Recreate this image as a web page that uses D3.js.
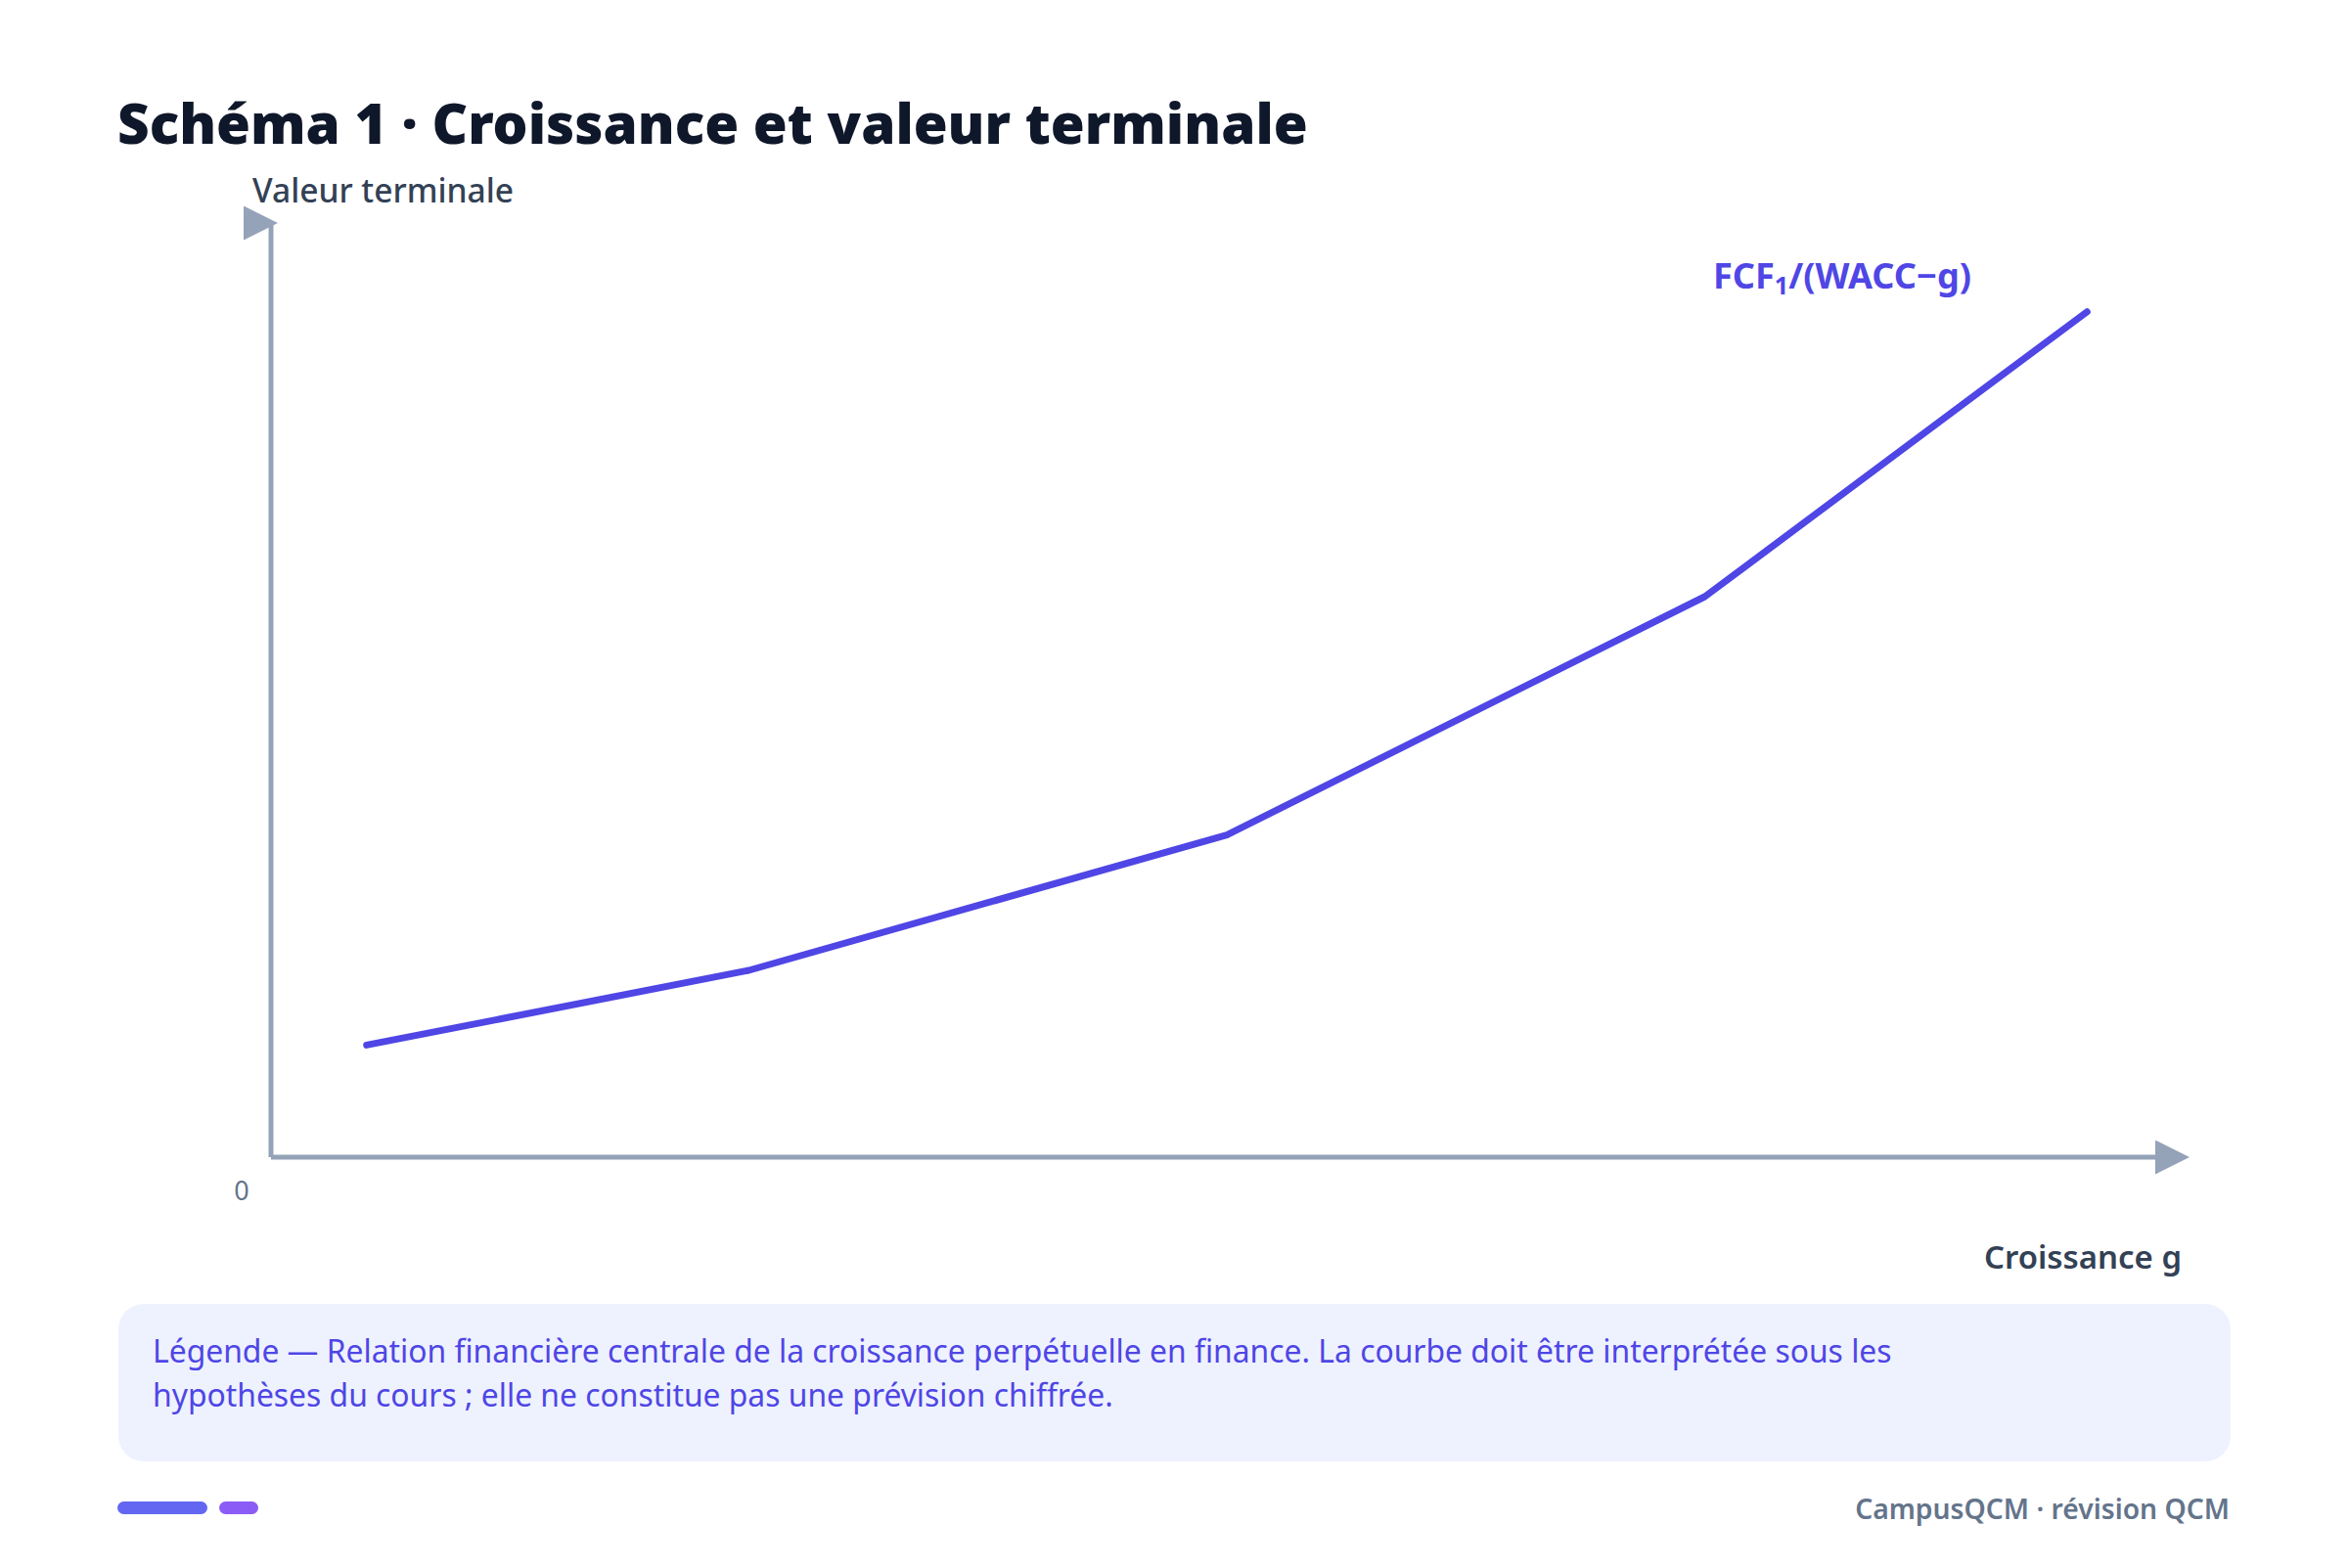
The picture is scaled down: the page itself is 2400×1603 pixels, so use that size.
<!DOCTYPE html>
<html lang="fr">
<head>
<meta charset="utf-8">
<script src="https://cdn.jsdelivr.net/npm/d3@7"></script>
<style>
  html, body { margin: 0; padding: 0; background: #ffffff; }
  svg { display: block; font-family: "Segoe UI", "Noto Sans", "Open Sans", sans-serif; }
</style>
</head>
<body>
<svg id="chart" width="2400" height="1603"></svg>
<script>
// data (g on a 0-10 scale, value on a 0-100 scale)
const growth = [0.5, 2.5, 5, 7.5, 9.5];
const terminalValue = [12, 20, 34.5, 60, 90.5];
const yTicks = ["0"];
const captionLines = [
    "Légende — Relation financière centrale de la croissance perpétuelle en finance. La courbe doit être interprétée sous les",
    "hypothèses du cours ; elle ne constitue pas une prévision chiffrée."
];

const svg = d3.select("#chart");

const axisColor = "#94a3b8";
const lineColor = "#4f46e5";

function fitWidth(sel, target) {
    const node = sel.node();
    const w = node.getComputedTextLength();
    if (w > 0) {
        const fs = parseFloat(sel.attr("font-size"));
        sel.attr("font-size", (fs * target / w).toFixed(2));
    }
    return sel;
}

// scales
let x = d3.scaleLinear().domain([0, 10]).range([277, 2231]);
let y = d3.scaleLinear().domain([0, 100]).range([1183, 228]);

// Title
fitWidth(svg.append("text")
    .attr("x", 120).attr("y", 147)
    .attr("font-size", 58).attr("font-weight", 900)
    .attr("fill", "#0f172a")
    .text("Schéma 1 · Croissance et valeur terminale"), 1217);

// arrow head used by both axes (fixed orientation, like the original)
svg.append("defs").append("marker")
    .attr("id", "arrow")
    .attr("viewBox", "0 0 10 10")
    .attr("refX", 8).attr("refY", 5)
    .attr("markerWidth", 7).attr("markerHeight", 7)
    .append("path")
    .attr("d", "M0,0 L10,5 L0,10 Z")
    .attr("fill", axisColor);

// axes
svg.append("line")
    .attr("x1", x(0)).attr("y1", y(0))
    .attr("x2", x(10)).attr("y2", y(0))
    .attr("stroke", axisColor).attr("stroke-width", 5)
    .attr("marker-end", "url(#arrow)");

svg.append("line")
    .attr("x1", x(0)).attr("y1", y(0))
    .attr("x2", x(0)).attr("y2", y(100))
    .attr("stroke", axisColor).attr("stroke-width", 5)
    .attr("marker-end", "url(#arrow)");

// zero label
svg.selectAll(".tick-label").data(yTicks).enter().append("text")
    .attr("class", "tick-label")
    .attr("x", x(0) - 30).attr("y", y(0) + 44)
    .attr("text-anchor", "middle")
    .attr("font-size", 27).attr("fill", "#64748b")
    .text(d => d);

// axis titles
fitWidth(svg.append("text")
    .attr("x", 258).attr("y", 207)
    .attr("font-size", 33).attr("font-weight", 500)
    .attr("fill", "#334155")
    .text("Valeur terminale"), 267);

fitWidth(svg.append("text")
    .attr("x", 2230).attr("y", 1297)
    .attr("text-anchor", "end")
    .attr("font-size", 34).attr("font-weight", 600)
    .attr("fill", "#334155")
    .text("Croissance g"), 202);

// curve
let line = d3.line()
    .x((d, i) => x(growth[i]))
    .y(d => y(d));

svg.append("path")
    .datum(terminalValue)
    .attr("d", line)
    .attr("fill", "none")
    .attr("stroke", lineColor)
    .attr("stroke-width", 7)
    .attr("stroke-linecap", "round")
    .attr("stroke-linejoin", "round");

// curve label
let formula = svg.append("text")
    .attr("x", 1751).attr("y", 295)
    .attr("font-size", 34).attr("font-weight", 700)
    .attr("fill", lineColor);
formula.append("tspan").text("FCF");
formula.append("tspan").attr("font-size", "0.7em").attr("dy", 6).text("1");
formula.append("tspan").attr("dy", -6).text("/(WACC−g)");
fitWidth(formula, 264);

// caption box
svg.append("rect")
    .attr("x", 121).attr("y", 1333)
    .attr("width", 2159).attr("height", 161)
    .attr("rx", 26)
    .attr("fill", "#eef2ff");

svg.selectAll(".caption").data(captionLines).enter().append("text")
    .attr("class", "caption")
    .attr("x", 156)
    .attr("y", (d, i) => 1393 + i * 45)
    .attr("font-size", 32)
    .attr("fill", "#4f46e5")
    .text(d => d)
    .each(function(d, i) {
        if (i === 0) fitWidth(d3.select(this), 1778);
    });
// second line uses the same size as the first
svg.selectAll(".caption").attr("font-size", svg.select(".caption").attr("font-size"));

// footer
svg.append("rect")
    .attr("x", 120).attr("y", 1535)
    .attr("width", 92).attr("height", 13).attr("rx", 6.5)
    .attr("fill", "#6366f1");
svg.append("rect")
    .attr("x", 224).attr("y", 1535)
    .attr("width", 40).attr("height", 13).attr("rx", 6.5)
    .attr("fill", "#8b5cf6");

fitWidth(svg.append("text")
    .attr("x", 2279).attr("y", 1553)
    .attr("text-anchor", "end")
    .attr("font-size", 30).attr("font-weight", 600)
    .attr("fill", "#64748b")
    .text("CampusQCM · révision QCM"), 383);
</script>
</body>
</html>
